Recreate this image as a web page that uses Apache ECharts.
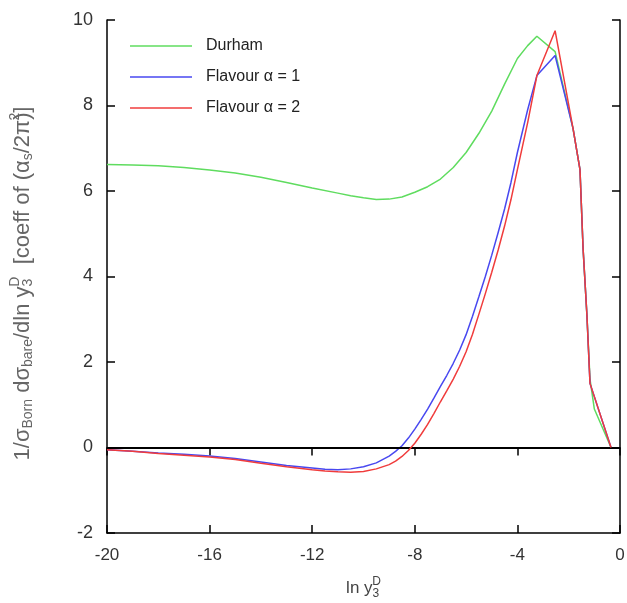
<!DOCTYPE html>
<html><head><meta charset="utf-8">
<script src="https://cdn.jsdelivr.net/npm/echarts@6/dist/echarts.min.js"></script>
<style>html,body{margin:0;padding:0;background:#fff}#c{width:627px;height:603px}</style>
</head><body><div id="c"></div>
<script>
const xDurham = [-20,-19,-18,-17,-16,-15,-14,-13,-12,-11,-10.5,-10,-9.5,-9,-8.5,-8,-7.5,-7,-6.5,-6,-5.5,-5,-4.5,-4,-3.6,-3.24,-2.53,-1.83,-1.56,-1.44,-1.29,-1.17,-1.0,-0.35];
const yDurham = [6.62,6.61,6.59,6.55,6.49,6.42,6.32,6.2,6.07,5.95,5.89,5.84,5.8,5.81,5.86,5.97,6.1,6.28,6.55,6.9,7.35,7.87,8.5,9.1,9.4,9.62,9.26,7.46,6.5,4.66,3.1,1.6,0.9,0];
const xFlav = [-20,-19,-18,-17,-16,-15,-14,-13,-12,-11.5,-11,-10.5,-10,-9.5,-9,-8.75,-8.5,-8.25,-8,-7.75,-7.5,-7.25,-7,-6.75,-6.5,-6.25,-6,-5.75,-5.5,-5.25,-5,-4.75,-4.5,-4.25,-4,-3.6,-3.24,-2.53,-1.83,-1.56,-1.44,-1.29,-1.17,-0.35];
const yFlav1 = [-0.05,-0.09,-0.13,-0.16,-0.2,-0.26,-0.34,-0.42,-0.48,-0.51,-0.52,-0.5,-0.45,-0.36,-0.2,-0.09,0.04,0.22,0.43,0.66,0.9,1.16,1.43,1.69,1.97,2.28,2.64,3.07,3.53,4.0,4.5,5.03,5.58,6.2,6.9,7.9,8.7,9.17,7.46,6.5,4.66,3.1,1.5,0];
const yFlav2 = [-0.05,-0.09,-0.14,-0.18,-0.22,-0.28,-0.37,-0.45,-0.52,-0.55,-0.57,-0.58,-0.56,-0.5,-0.4,-0.32,-0.21,-0.07,0.1,0.31,0.54,0.8,1.07,1.33,1.6,1.9,2.24,2.65,3.12,3.6,4.1,4.62,5.18,5.8,6.5,7.6,8.7,9.75,7.46,6.5,4.66,3.1,1.5,0];
const seriesNames = ['Durham','Flavour \u03b1 = 1','Flavour \u03b1 = 2'];
const xTicks = [-20,-16,-12,-8,-4,0];
const yTicks = [-2,0,2,4,6,8,10];

const pair = (xs, ys) => xs.map((x,i)=>[x, ys[i]]);
const chart = echarts.init(document.getElementById('c'), null, {renderer:'canvas'});
const font = 'Liberation Sans, Arial, sans-serif';
const tickStyle = {show:true, inside:true, length:8, lineStyle:{color:'#000', width:1.5}};
const lineAx = {show:true, lineStyle:{color:'#000', width:1.5}};
chart.setOption({
  animation:false,
  grid:{left:107, right:7, top:20, bottom:70, containLabel:false, outerBoundsMode:'none'},
  legend:{
    data:seriesNames, orient:'vertical', left:125, top:33,
    icon:'rect', itemWidth:62, itemHeight:1.5, itemGap:15,
    textStyle:{fontFamily:font, fontSize:16, color:'#222', padding:[0,0,0,9]}
  },
  xAxis:[{
    type:'value', min:xTicks[0], max:xTicks[xTicks.length-1], interval:4,
    axisLine:Object.assign({onZero:false}, lineAx), axisTick:tickStyle, splitLine:{show:false},
    axisLabel:{fontFamily:font, fontSize:17, color:'#333', margin:14},
    name:'ln y{sub|3}{sup|D}', nameLocation:'middle', nameGap:43,
    nameTextStyle:{fontFamily:font, fontSize:17, color:'#444',
      rich:{sub:{fontSize:12, padding:[10,0,0,0], color:'#444'}, sup:{fontSize:12, padding:[0,0,13,-7], color:'#444'}}}
  },{
    type:'value', position:'top', min:-20, max:0, interval:4,
    axisLine:lineAx, axisTick:tickStyle, axisLabel:{show:false}, splitLine:{show:false}
  }],
  yAxis:[{
    type:'value', min:yTicks[0], max:yTicks[yTicks.length-1], interval:2,
    axisLine:Object.assign({onZero:false}, lineAx), axisTick:tickStyle, splitLine:{show:false},
    axisLabel:{fontFamily:font, fontSize:18, color:'#333', margin:14},
    name:'1/\u03c3{sub|Born} d\u03c3{sub|bare}/dln y{sub|3}{sup|D}  [coeff of (\u03b1{sub|s}/2\u03c0){sup|2}]',
    nameLocation:'middle', nameRotate:90, nameGap:70,
    nameTextStyle:{fontFamily:font, fontSize:22, color:'#666', padding:[0,14,0,0],
      rich:{sub:{fontSize:14, padding:[11,0,0,0], color:'#666'}, sup:{fontSize:14, padding:[0,0,15,-8], color:'#666'}}}
  },{
    type:'value', position:'right', min:-2, max:10, interval:2,
    axisLine:lineAx, axisTick:tickStyle, axisLabel:{show:false}, splitLine:{show:false}
  }],
  series:[
    {name:seriesNames[0], type:'line', data:pair(xDurham,yDurham), symbol:'none', smooth:false,
     lineStyle:{color:'#5fdc5f', width:1.5}, itemStyle:{color:'#5fdc5f'}, z:3,
     markLine:{silent:true, symbol:'none', label:{show:false}, lineStyle:{color:'#000', width:2, type:'solid'}, data:[{yAxis:0}]}},
    {name:seriesNames[1], type:'line', data:pair(xFlav,yFlav1), symbol:'none', smooth:false,
     lineStyle:{color:'#4848f0', width:1.5}, itemStyle:{color:'#4848f0'}, z:4},
    {name:seriesNames[2], type:'line', data:pair(xFlav,yFlav2), symbol:'none', smooth:false,
     lineStyle:{color:'#f03c3c', width:1.5}, itemStyle:{color:'#f03c3c'}, z:5}
  ]
});
</script></body></html>
